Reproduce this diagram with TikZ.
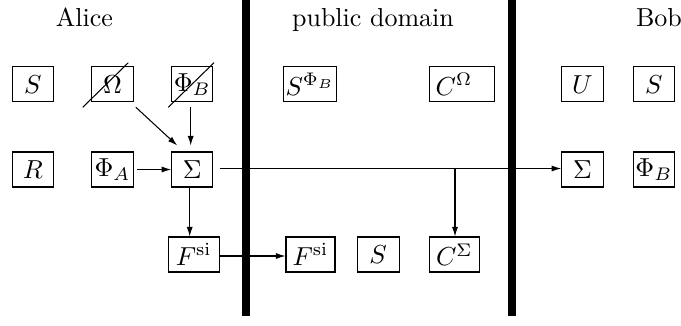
\documentclass[tikz,border=0pt]{standalone}
\usetikzlibrary{calc,arrows.meta}
\newcommand\pxl{0.3846pt}
\begin{document}
\begin{tikzpicture}[x=0.3846pt,y=-0.3846pt,
  box/.style={draw,inner sep=0pt,minimum height=35*\pxl,minimum width=41*\pxl},
  arr/.style={-{Latex[length=9.5*\pxl,width=6*\pxl]}},
  title/.style={anchor=base,inner sep=0pt},
  wall/.style={line width=8.3*\pxl}]
\useasboundingbox (0,0) rectangle (681,325);
% titles
\node[title] (alice) at (84.5,26.5) {Alice};
\node[title] (pub) at (373,26.5) {public domain};
\node[title] (bob) at (659,26.5) {Bob};
% Alice
\node[box] (SA) at (32.8,84.2) {$S$};
\node[box,minimum width=41.6*\pxl] (Om) at (112.5,84.2) {$\Omega$};
\node[box] (PhB) at (192.2,84.2) {$\Phi_B$};
\node[box] (R) at (32.8,169.5) {$R$};
\node[box,minimum width=41.6*\pxl] (PhA) at (112.5,169.5) {$\Phi_A$};
\node[box] (Sig) at (192.2,169.5) {$\Sigma$};
\node[box,minimum width=50.7*\pxl] (Fsi) at (193.7,254.5) {$F^{\mathrm{si}}$};
% public
\node[box,minimum width=53.3*\pxl] (SPhB) at (310,84.2) {$S^{\Phi_B}$};
\node[box,minimum width=65*\pxl] (COm) at (461.8,84.2) {$C^{\Omega}$\hspace*{6pt}};
\node[box,minimum width=49*\pxl] (Fsi2) at (310.5,254.5) {$F^{\mathrm{si}}$};
\node[box,minimum width=41.7*\pxl] (S2) at (378.2,254.5) {$S$};
\node[box,minimum width=50*\pxl] (CSig) at (454.3,254.5) {$C^{\Sigma}$};
% Bob
\node[box,minimum width=41.6*\pxl] (U) at (582.5,84.2) {$U$};
\node[box] (SB) at (653.8,84.2) {$S$};
\node[box,minimum width=41.6*\pxl] (SigB) at (582.5,169.5) {$\Sigma$};
\node[box] (PhBB) at (653.8,169.5) {$\Phi_B$};
% strike-outs
\draw ($(Om)+(-29.8,23.1)$) -- ($(Om)+(15.8,-21.5)$);
\draw ($(PhB)+(-23.9,23.1)$) -- ($(PhB)+(21.8,-21.5)$);
% connectors
\draw[arr] ($(Om.south east)+(2,5)$) -- ($(Sig.north west)+(6,-6)$);
\draw[arr] ($(PhB.south)+(-1.5,5)$) -- ($(Sig.north)+(-1.5,-6)$);
\draw[arr] ($(PhA.east)+(3.4,0)$) -- (Sig.west);
\draw[arr] ($(Sig.south)+(-2.5,0)$) -- ($(Fsi.north)+(-4,0)$);
\coordinate (br) at (455,168.5);
\draw[arr] ($(Sig.east)+(6.3,-1)$) -- ($(SigB.west)+(0,-1)$);
\draw[arr] (br) -- (CSig.north -| br);
\draw[arr] ($(Fsi.east)+(0,1.5)$) -- ($(Fsi2.west)+(0,1.5)$);
% walls
\coordinate (w1t) at (246.2,0);
\coordinate (w1b) at (246.2,316);
\coordinate (w2t) at (512,0);
\coordinate (w2b) at (512,316);
\draw[wall] (w1t) -- (w1b);
\draw[wall] (w2t) -- (w2b);
\end{tikzpicture}
\end{document}
